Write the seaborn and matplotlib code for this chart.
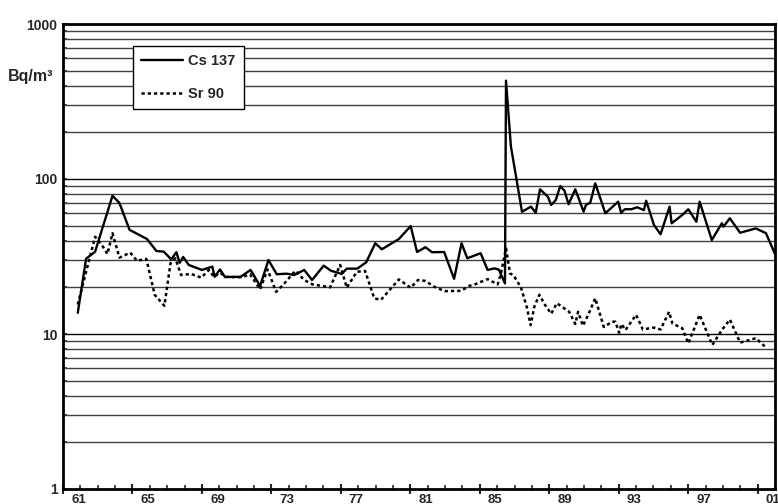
import matplotlib
matplotlib.use("Agg")
import matplotlib.pyplot as plt
import matplotlib.transforms as mtransforms
import numpy as np
import seaborn as sns

# Cs 137 air activity (Bq/m³) by decimal year
cs_years = [1961.85, 1962.33, 1962.85, 1963.85, 1964.25, 1964.83, 1965.84, 1966.38,
            1966.8, 1967.23, 1967.53, 1967.72, 1967.92, 1968.24, 1969.0, 1969.6,
            1969.73, 1970.04, 1970.33, 1971.23, 1971.8, 1972.35, 1972.83, 1973.31,
            1973.89, 1974.31, 1974.89, 1975.34, 1976.01, 1976.43, 1977.05, 1977.34,
            1977.94, 1978.46, 1978.98, 1979.36, 1980.34, 1981.02, 1981.39, 1981.87,
            1982.25, 1982.95, 1983.52, 1983.95, 1984.28, 1985.05, 1985.45, 1985.84,
            1986.1, 1986.45, 1986.51, 1986.79, 1987.43, 1987.95, 1988.22, 1988.47,
            1988.92, 1989.11, 1989.38, 1989.63, 1989.88, 1990.11, 1990.5, 1990.98,
            1991.11, 1991.36, 1991.65, 1992.23, 1992.97, 1993.14, 1993.35, 1993.73,
            1994.06, 1994.45, 1994.58, 1995.03, 1995.41, 1995.93, 1996.05, 1996.66,
            1997.01, 1997.47, 1997.66, 1998.36, 1998.94, 1999.03, 1999.4, 1999.99,
            2000.9, 2001.48, 2002.0]
cs_values = [13.7, 30.6, 34.0, 78.0, 70.0, 47.0, 41.0, 34.3,
             34.0, 30.3, 33.7, 28.8, 31.4, 27.9, 25.9, 27.2,
             23.4, 26.1, 23.3, 23.4, 25.9, 20.4, 30.0, 24.3,
             24.5, 24.0, 25.9, 22.3, 27.6, 25.6, 24.4, 26.4,
             26.4, 29.0, 38.5, 35.2, 41.0, 49.7, 33.8, 36.3,
             33.7, 33.8, 22.7, 38.5, 30.8, 33.2, 25.9, 26.5,
             26.0, 21.2, 431.0, 163.0, 61.5, 66.3, 60.6, 85.8,
             76.9, 68.0, 73.2, 90.0, 84.0, 68.7, 85.8, 61.5,
             68.0, 70.3, 93.8, 60.1, 71.4, 60.5, 63.8, 63.8,
             65.7, 63.0, 72.4, 50.5, 44.0, 66.3, 51.8, 58.6,
             63.8, 53.0, 71.4, 40.4, 51.8, 49.2, 55.8, 45.0,
             48.0, 44.7, 32.8]

# Sr 90 air activity (Bq/m³) by decimal year
sr_years = [1961.85, 1962.48, 1962.85, 1963.24, 1963.56, 1963.85, 1964.25, 1964.87,
            1965.26, 1965.8, 1966.28, 1966.84, 1967.19, 1967.47, 1967.8, 1968.38,
            1968.96, 1969.4, 1969.69, 1970.04, 1970.36, 1971.29, 1971.77, 1972.35,
            1972.78, 1973.27, 1973.75, 1974.38, 1974.89, 1975.37, 1976.38, 1976.96,
            1977.34, 1977.92, 1978.4, 1978.92, 1979.31, 1980.34, 1981.02, 1981.44,
            1981.87, 1982.37, 1982.98, 1983.92, 1984.43, 1984.72, 1985.45, 1986.03,
            1986.22, 1986.51, 1986.74, 1986.93, 1987.37, 1987.7, 1987.93, 1988.14,
            1988.43, 1988.76, 1989.11, 1989.44, 1989.73, 1990.15, 1990.5, 1990.66,
            1990.94, 1991.27, 1991.65, 1992.14, 1992.62, 1992.81, 1993.02, 1993.16,
            1993.39, 1994.0, 1994.39, 1995.03, 1995.41, 1995.9, 1996.09, 1996.66,
            1997.01, 1997.66, 1998.39, 1998.94, 1999.4, 1999.99, 2000.9, 2001.52]
sr_values = [15.5, 29.3, 42.4, 37.5, 32.8, 44.7, 31.1, 33.5,
             29.7, 30.5, 17.9, 15.2, 28.6, 30.8, 24.0, 24.4,
             23.1, 25.9, 23.4, 24.9, 23.4, 23.2, 24.3, 19.4,
             26.1, 18.7, 21.2, 25.6, 22.3, 20.9, 20.0, 27.9,
             19.9, 25.2, 25.5, 17.0, 16.6, 22.5, 19.9, 22.3,
             22.0, 20.2, 18.9, 19.0, 20.5, 20.9, 22.6, 20.9,
             24.6, 35.7, 24.6, 24.0, 20.0, 15.0, 11.4, 15.0,
             17.9, 15.4, 13.5, 15.8, 15.0, 13.9, 11.6, 13.9,
             11.3, 13.5, 17.0, 11.1, 12.0, 12.0, 10.2, 11.6,
             10.6, 13.3, 10.7, 11.0, 10.7, 13.9, 11.7, 10.9,
             8.7, 13.3, 8.5, 10.6, 12.4, 8.8, 9.4, 8.1]

year_ticks = list(range(1961, 2002, 4))
year_labels = ["61", "65", "69", "73", "77", "81", "85", "89", "93", "97", "01"]
decade_ticks = [1, 10, 100, 1000]
decade_labels = ["1", "10", "100", "1000"]

sns.set_style("white")
plt.rcParams["font.family"] = ["Liberation Sans", "DejaVu Sans"]
plt.rcParams["font.weight"] = "bold"

fig = plt.figure(figsize=(7.78, 5.04), dpi=100)
ax = fig.add_axes([63 / 778, 15 / 504, 712 / 778, 465 / 504])

# horizontal grid at every log step
for d in [1, 10, 100]:
    for m in range(2, 10):
        ax.axhline(d * m, color="#404040", lw=1.0, zorder=1)
for v in [10, 100]:
    ax.axhline(v, color="black", lw=1.0, zorder=1)

sns.lineplot(x=cs_years, y=cs_values, ax=ax, color="black", lw=1.7,
             label="Cs 137", zorder=3)
sns.lineplot(x=sr_years, y=sr_values, ax=ax, color="black", lw=1.8,
             linestyle=(0, (1.3, 1.2)), label="Sr 90", zorder=3)

ax.set_yscale("log")
ax.set_ylim(1, 1000)
ax.set_xlim(1961, 2002)

ax.set_yticks(decade_ticks, labels=decade_labels)
ax.yaxis.set_minor_locator(matplotlib.ticker.LogLocator(base=10, subs=np.arange(2, 10)))
ax.yaxis.set_minor_formatter(matplotlib.ticker.NullFormatter())
ax.tick_params(axis="y", which="both", direction="in", length=3, width=1.2,
               left=True, labelsize=10, pad=4)

ax.set_xticks(year_ticks, labels=year_labels)
ax.xaxis.set_minor_locator(matplotlib.ticker.MultipleLocator(1))
ax.tick_params(axis="x", which="major", direction="inout", length=7, width=1.5,
               bottom=True, labelsize=9.5, pad=0)
ax.tick_params(axis="x", which="minor", direction="in", length=3, width=1.2,
               bottom=True)
shift = mtransforms.ScaledTranslation(0.155, 0, fig.dpi_scale_trans)
for lab in ax.get_xticklabels():
    lab.set_transform(lab.get_transform() + shift)
for lab in ax.get_xticklabels() + ax.get_yticklabels():
    lab.set_fontweight("bold")

for side in ["left", "bottom", "top", "right"]:
    ax.spines[side].set_visible(True)
    ax.spines[side].set_color("black")
    ax.spines[side].set_linewidth(2.0)
ax.set_xlabel("")
ax.set_ylabel("")

fig.text(31 / 778, 1 - 77 / 504, "Bq/m³", ha="center", va="center",
         fontsize=11.5, fontweight="bold")

leg = ax.legend(loc="upper left", bbox_to_anchor=(133 / 778, 1 - 46 / 504),
                bbox_transform=fig.transFigure, frameon=True, fancybox=False,
                edgecolor="black", framealpha=1, borderaxespad=0,
                handlelength=2.9, handletextpad=0.35, labelspacing=1.3,
                borderpad=0.55, prop={"size": 10.5, "weight": "bold"})
leg.get_frame().set_linewidth(1.0)

fig.savefig("out.png", dpi=100)
